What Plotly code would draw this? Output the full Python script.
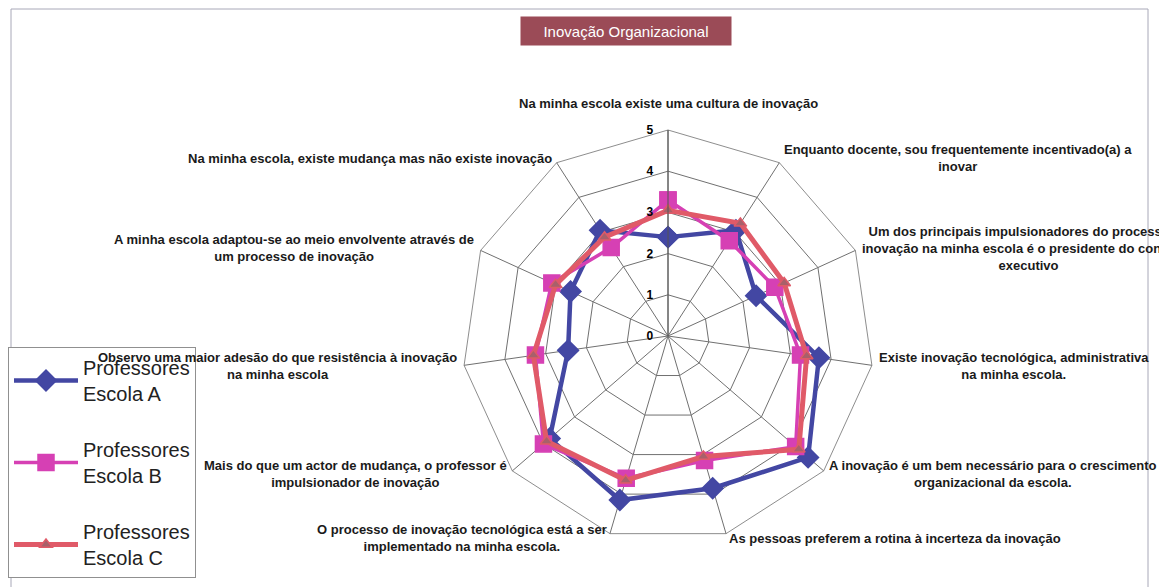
import math
import plotly.graph_objects as go

# ---------------- data ----------------
categories = [
    "Na minha escola existe uma cultura de inovação",
    "Enquanto docente, sou frequentemente incentivado(a) a<br>inovar",
    "Um dos principais impulsionadores do processo de<br>inovação na minha escola é o presidente do conselho<br>executivo",
    "Existe inovação tecnológica, administrativa<br>na minha escola.",
    "A inovação é um bem necessário para o crescimento<br>organizacional da escola.",
    "As pessoas preferem a rotina à incerteza da inovação",
    "O processo de inovação tecnológica está a ser<br>implementado na minha escola.",
    "Mais do que um actor de mudança, o professor é<br>impulsionador de inovação",
    "Observo uma maior adesão do que resistência à inovação<br>na minha escola",
    "A minha escola adaptou-se ao meio envolvente através de<br>um processo de inovação",
    "Na minha escola, existe mudança mas não existe inovação",
]
escola_a = [2.4, 3.05, 2.35, 3.7, 4.5, 3.85, 4.15, 3.8, 2.45, 2.6, 3.05]
escola_b = [3.3, 2.75, 2.85, 3.25, 4.1, 3.15, 3.6, 4.0, 3.25, 3.1, 2.55]
escola_c = [3.05, 3.25, 3.1, 3.4, 4.2, 3.05, 3.65, 3.9, 3.3, 3.0, 2.85]
series_names = ["Professores<br>Escola A", "Professores<br>Escola B", "Professores<br>Escola C"]
radial_ticks = [0, 1, 2, 3, 4, 5]
chart_title = "Inovação Organizacional"

# ---------------- layout geometry ----------------
PAGE_OFF = 8                      # default body margin of the html page
W, H = 1167 - PAGE_OFF, 587 - PAGE_OFF
CX, CY, R = 668, 336, 206         # target screen pixels
FONT = "Liberation Sans, Arial, sans-serif"


def fx(px):
    return (px - PAGE_OFF) / W


def fy(py):
    return 1 - (py - PAGE_OFF) / H


styles = [
    dict(color="#4347A3", symbol="diamond", size=16, width=4.5, fill="#4347A3", mline="#4347A3"),
    dict(color="#D640B4", symbol="square", size=16, width=3.5, fill="#D640B4", mline="#D640B4"),
    dict(color="#E05A68", symbol="triangle-up", size=11, width=5, fill="#A8606A", mline="#E05A68"),
]

fig = go.Figure()
for i, (name, vals) in enumerate(zip(series_names, [escola_a, escola_b, escola_c])):
    st = styles[i]
    fig.add_trace(go.Scatterpolar(
        r=vals + [vals[0]],
        theta=categories + [categories[0]],
        mode="lines+markers",
        name=name,
        legendgroup=f"g{i}",
        line=dict(color=st["color"], width=st["width"]),
        marker=dict(symbol=st["symbol"], size=st["size"], color=st["fill"],
                    line=dict(color=st["mline"], width=1.5)),
    ))

annotations = []
n = len(categories)
for k, cat in enumerate(categories):
    ang = math.radians(90 - k * 360 / n)
    c, s = math.cos(ang), math.sin(ang)
    if abs(c) < 0.1 and s > 0:
        off = 17
        xa, ya = "center", "bottom"
    elif c > 0:
        off = 5
        xa, ya = "left", "middle"
    else:
        off = 5
        xa, ya = "right", "middle"
    px = CX + (R + off) * c
    py = CY - (R + off) * s
    annotations.append(dict(
        text=cat, x=fx(px), y=fy(py), xref="paper", yref="paper",
        xanchor=xa, yanchor=ya, align="center", showarrow=False,
        font=dict(family=FONT, size=13, color="#1a1a1a", weight="bold"),
    ))

annotations.append(dict(
    text=chart_title, x=fx(626), y=fy(31), xref="paper", yref="paper",
    xanchor="center", yanchor="middle", showarrow=False,
    width=208, height=26, bgcolor="#9B4B57", borderpad=1,
    font=dict(family=FONT, size=15, color="white"),
))

fig.update_layout(
    width=W, height=H,
    margin=dict(l=0, r=0, t=0, b=0),
    paper_bgcolor="white",
    plot_bgcolor="white",
    showlegend=True,
    legend=dict(
        x=fx(8), y=fy(347), xanchor="left", yanchor="top",
        bordercolor="#909090", borderwidth=1, bgcolor="white",
        font=dict(family=FONT, size=20, color="#222222"),
        tracegroupgap=27, itemwidth=64,
    ),
    polar=dict(
        domain=dict(x=[fx(CX - R), fx(CX + R)], y=[fy(CY + R), fy(CY - R)]),
        bgcolor="white",
        gridshape="linear",
        radialaxis=dict(
            range=[0, 5], tickvals=radial_ticks, angle=90, side="counterclockwise",
            showline=True, linecolor="#555555", linewidth=1,
            gridcolor="#707070", gridwidth=0.8,
            ticks="outside", ticklen=10, tickcolor="rgba(0,0,0,0)", tickangle=90,
            tickfont=dict(family=FONT, size=12, color="black", weight="bold"),
        ),
        angularaxis=dict(
            direction="clockwise", rotation=90, showticklabels=False, ticks="",
            linecolor="#707070", linewidth=0.8, gridcolor="#707070", gridwidth=0.8,
        ),
    ),
    annotations=annotations,
    shapes=[dict(type="rect", xref="paper", yref="paper",
                 x0=fx(11), x1=fx(1148), y0=-0.05, y1=fy(9),
                 line=dict(color="#A8A8B8", width=1), layer="below")],
)

fig.write_html("out.html")
